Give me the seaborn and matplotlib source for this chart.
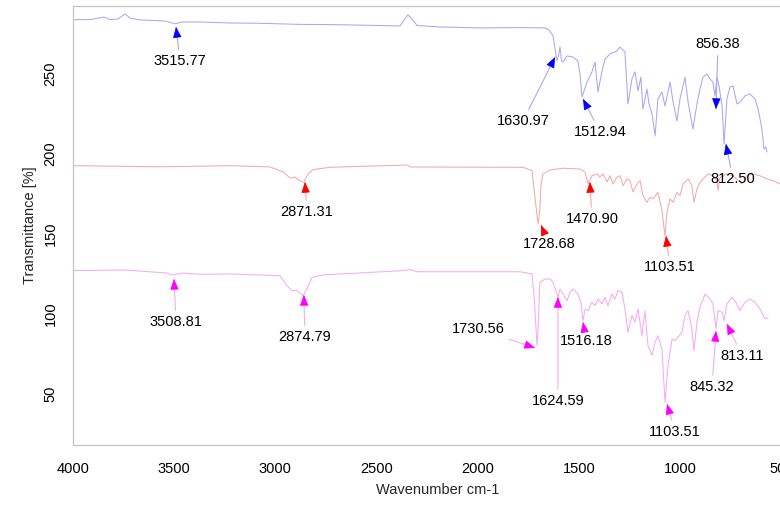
import numpy as np
import pandas as pd
import matplotlib
matplotlib.use("Agg")
import matplotlib.pyplot as plt
import seaborn as sns

# ---------------- data ----------------
blue_w = [4000, 3916, 3847, 3817, 3778, 3743, 3718, 3669, 3595, 3545,
          3496, 3461, 3372, 3224, 3076, 2878, 2730, 2483, 2384, 2360,
          2345, 2325, 2300, 2187, 1989, 1791, 1668, 1648, 1628, 1609,
          1599, 1594, 1586, 1579, 1559, 1529, 1505, 1495, 1485, 1460,
          1436, 1421, 1406, 1386, 1371, 1347, 1312, 1297, 1282, 1273,
          1258, 1238, 1223, 1208, 1194, 1184, 1164, 1154, 1139, 1124,
          1110, 1090, 1075, 1050, 1035, 1016, 1001, 986, 976, 961,
          937, 917, 902, 887, 867, 853, 838, 828, 818, 808,
          793, 783, 769, 754, 739, 719, 704, 680, 655, 630,
          615, 596, 586, 576, 571]
blue_T = [283.9, 284.0, 285.6, 284.0, 284.4, 287.5, 285.0, 283.8, 283.4, 283.1,
          281.4, 282.5, 282.5, 281.9, 281.7, 281.0, 280.9, 280.3, 280.0, 284.4,
          287.0, 284.4, 280.3, 279.4, 278.8, 279.0, 278.8, 277.5, 273.8, 258.3,
          262.5, 267.0, 258.0, 257.5, 261.3, 260.6, 258.0, 250.0, 235.6, 245.0,
          251.3, 257.5, 238.8, 251.9, 259.4, 262.5, 264.4, 266.9, 265.0, 263.8,
          231.3, 246.9, 251.3, 239.4, 248.1, 228.1, 240.6, 231.3, 225.0, 211.3,
          234.4, 238.8, 230.0, 245.0, 232.5, 220.6, 234.4, 242.5, 248.1, 232.5,
          215.6, 231.3, 240.6, 248.1, 250.0, 246.9, 245.0, 236.3, 248.1, 242.5,
          230.0, 206.3, 234.4, 241.9, 242.5, 231.3, 232.5, 236.3, 237.5, 234.4,
          228.1, 215.6, 203.1, 204.4, 201.3]

red_w = [4000, 3570, 3224, 3027, 2962, 2928, 2903, 2878, 2859, 2839,
         2814, 2730, 2345, 2335, 1890, 1777, 1732, 1722, 1707, 1702,
         1693, 1688, 1678, 1643, 1579, 1495, 1470, 1455, 1436, 1411,
         1396, 1381, 1361, 1347, 1332, 1312, 1297, 1282, 1263, 1248,
         1233, 1213, 1198, 1184, 1164, 1149, 1134, 1110, 1090, 1075,
         1065, 1050, 1035, 1016, 1001, 986, 961, 942, 932, 917,
         902, 887, 862, 838, 818, 813, 803, 769, 739, 694,
         670, 640, 605, 571, 541, 507]
red_T = [192.7, 192.0, 192.7, 191.9, 188.8, 185.0, 185.6, 183.1, 182.3, 187.5,
         190.2, 191.7, 193.1, 191.9, 191.7, 191.7, 189.6, 178.1, 161.4, 156.3,
         165.6, 180.2, 187.5, 190.0, 191.1, 190.6, 188.6, 181.3, 186.4, 187.5,
         185.6, 187.5, 182.5, 186.4, 181.3, 185.6, 186.4, 180.2, 184.4, 183.3,
         176.3, 181.3, 183.3, 174.0, 169.8, 172.9, 171.9, 176.1, 164.6, 148.9,
         163.6, 171.9, 169.8, 176.1, 174.0, 181.3, 184.4, 180.2, 169.8, 178.1,
         182.3, 184.4, 187.5, 186.4, 183.3, 177.1, 185.4, 187.5, 186.4, 181.3,
         186.4, 187.5, 186.4, 184.4, 183.3, 181.3]

mag_w = [4000, 3743, 3536, 3511, 3456, 3373, 3224, 2977, 2943, 2918,
         2893, 2864, 2844, 2819, 2765, 2369, 2335, 2300, 1791, 1732,
         1722, 1707, 1702, 1693, 1668, 1643, 1628, 1614, 1604, 1594,
         1579, 1559, 1544, 1530, 1505, 1490, 1480, 1470, 1455, 1436,
         1421, 1406, 1386, 1371, 1357, 1337, 1322, 1307, 1287, 1273,
         1258, 1238, 1223, 1208, 1189, 1174, 1159, 1139, 1124, 1110,
         1090, 1075, 1060, 1040, 1026, 1011, 991, 976, 961, 942,
         932, 917, 902, 877, 853, 838, 823, 813, 793, 783,
         769, 744, 729, 704, 680, 655, 630, 605, 581, 566]
mag_T = [127.1, 127.5, 125.6, 124.4, 125.6, 124.8, 125.0, 123.9, 117.7, 114.6,
         114.6, 111.4, 115.6, 122.9, 124.4, 127.1, 127.7, 126.4, 126.4, 125.0,
         111.4, 80.2, 90.6, 119.8, 121.9, 121.9, 119.8, 114.6, 110.4, 115.6,
         112.5, 108.3, 113.6, 115.6, 112.5, 107.3, 95.8, 103.1, 102.1, 107.3,
         105.2, 109.4, 106.3, 110.4, 105.2, 112.5, 109.4, 114.6, 113.6, 103.1,
         88.6, 99.1, 94.8, 103.1, 86.4, 102.1, 80.2, 74.1, 82.3, 86.4,
         78.1, 44.8, 67.7, 84.4, 83.3, 85.4, 88.6, 99.1, 102.1, 90.6,
         77.1, 94.8, 104.2, 112.5, 109.4, 106.3, 90.6, 102.1, 101.1, 95.8,
         106.3, 110.4, 108.3, 102.1, 107.3, 109.4, 107.3, 103.1, 96.9, 97.9]

series_names = ["blue", "red", "magenta"]

# peak annotations: label, peak wavenumber, peak T, label wavenumber, label T
blue_labels = ["3515.77", "1630.97", "1512.94", "856.38", "812.50"]
blue_peak_w = [3491, 1618, 1480, 823, 774]
blue_peak_T = [279.4, 260.6, 234.4, 228.1, 206.3]
blue_text_w = [3471, 1777, 1396, 813, 739]
blue_text_T = [258.1, 220.6, 213.8, 268.8, 184.4]

red_labels = ["2871.31", "1728.68", "1470.90", "1103.51"]
red_peak_w = [2854, 1688, 1446, 1070]
red_peak_T = [182.5, 155.6, 182.5, 148.8]
red_text_w = [2844, 1648, 1436, 1050]
red_text_T = [163.8, 143.8, 159.4, 129.4]

mag_labels = ["3508.81", "2874.79", "1730.56", "1624.59", "1516.18",
              "1103.51", "845.32", "813.11"]
mag_peak_w = [3501, 2859, 1717, 1604, 1480, 1065, 823, 769]
mag_peak_T = [121.9, 111.9, 78.8, 110.6, 95.0, 43.8, 89.4, 93.8]
mag_text_w = [3491, 2854, 1999, 1604, 1465, 1025, 843, 694]
mag_text_T = [95.0, 85.6, 90.6, 45.6, 83.1, 26.3, 54.4, 73.8]

x_ticks = [4000, 3500, 3000, 2500, 2000, 1500, 1000, 500]
y_ticks = [50, 100, 150, 200, 250]

# ---------------- styling ----------------
line_colors = {"blue": "#a8a8f0", "red": "#f2aaaa", "magenta": "#f5aaf5"}
head_colors = {"blue": "#0000ff", "red": "#ff0000", "magenta": "#ff00ff"}

sns.set_style("white")
plt.rcParams["font.family"] = ["Liberation Sans", "DejaVu Sans"]

frames = []
for name, w, t in zip(series_names, [blue_w, red_w, mag_w], [blue_T, red_T, mag_T]):
    frames.append(pd.DataFrame({"wavenumber": w, "T": t, "sample": name}))
df = pd.concat(frames, ignore_index=True)

DPI = 100
fig = plt.figure(figsize=(7.8, 5.05), dpi=DPI)
ax = fig.add_axes([73 / 780, 60 / 505, 728.6 / 780, 439 / 505])

sns.lineplot(data=df, x="wavenumber", y="T", hue="sample", palette=line_colors,
             sort=False, estimator=None, legend=False, linewidth=0.75, ax=ax)

ax.set_xlim(4000, 400)
ax.set_ylim(18.1, 292.5)
ax.set_xticks(x_ticks)
ax.set_xticklabels([str(v) for v in x_ticks])
ax.set_yticks(y_ticks)
ax.set_yticklabels([str(v) for v in y_ticks], rotation=90, va="center")
ax.tick_params(axis="both", direction="out", length=6, width=0.8,
               color="#b8b8b8", labelsize=10.5, labelcolor="black")
ax.tick_params(axis="x", pad=6)
ax.tick_params(axis="y", pad=5)
for side in ["left", "bottom", "top", "right"]:
    ax.spines[side].set_color("#c4c4c4")
    ax.spines[side].set_linewidth(0.9)
ax.set_xlabel("Wavenumber cm-1", fontsize=10.5, labelpad=5)
ax.set_ylabel("Transmittance [%]", fontsize=10.5, labelpad=5)
ax.grid(False)


def annotate_peak(label, pw, pt, tw, tt, name):
    ax.annotate(label, xy=(pw, pt), xytext=(tw, tt), textcoords="data",
                ha="center", va="center", fontsize=10.5, color="black",
                arrowprops=dict(arrowstyle="-", color=line_colors[name], lw=0.8,
                                shrinkA=1, shrinkB=0))
    p_tip = ax.transData.transform((pw, pt))
    p_src = ax.transData.transform((tw, tt))
    d = p_src - p_tip
    d = d / np.hypot(d[0], d[1]) * 9.0 * 72.0 / DPI
    ax.annotate("", xy=(pw, pt), xytext=(d[0], d[1]), textcoords="offset points",
                arrowprops=dict(arrowstyle="-|>,head_length=0.55,head_width=0.22",
                                color=head_colors[name], lw=0.6,
                                shrinkA=0, shrinkB=0, mutation_scale=12))


for name, labs, pws, pts, tws, tts in [
        ("blue", blue_labels, blue_peak_w, blue_peak_T, blue_text_w, blue_text_T),
        ("red", red_labels, red_peak_w, red_peak_T, red_text_w, red_text_T),
        ("magenta", mag_labels, mag_peak_w, mag_peak_T, mag_text_w, mag_text_T)]:
    for lab, pw, pt, tw, tt in zip(labs, pws, pts, tws, tts):
        annotate_peak(lab, pw, pt, tw, tt, name)

fig.savefig("out.png", dpi=DPI)
